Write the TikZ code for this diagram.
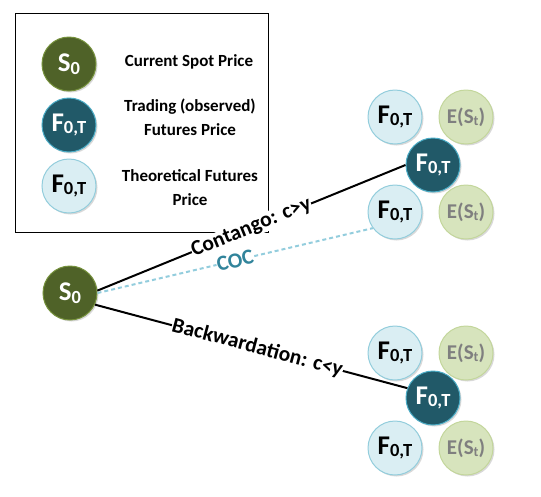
\documentclass[tikz,border=0pt]{standalone}
\usepackage{fontspec}
\setmainfont{Carlito}
\usetikzlibrary{shadows}
\definecolor{spot}{HTML}{4F6228}
\definecolor{spotb}{HTML}{76923C}
\definecolor{trade}{HTML}{215968}
\definecolor{tradeb}{HTML}{4BACC6}
\definecolor{theo}{HTML}{DAEEF3}
\definecolor{theob}{HTML}{92CDDC}
\definecolor{expc}{HTML}{D7E4BD}
\definecolor{expb}{HTML}{C3D69B}
\definecolor{expt}{HTML}{7F7F7F}
\definecolor{coc}{HTML}{31849B}
\definecolor{cocline}{HTML}{93CDDD}
\newcommand{\Fsub}{F\raisebox{-2.5pt}{\fontsize{18.5}{18.5}\selectfont 0,T}}
\newcommand{\Ssub}{S\raisebox{-2.5pt}{\fontsize{18.5}{18.5}\selectfont 0}}
\newcommand{\Esub}{E(S\raisebox{-2pt}{\fontsize{14}{14}\selectfont t})}
\begin{document}
\begin{tikzpicture}[x=1pt,y=-1pt,
 ball/.style={circle, minimum size=54pt, inner sep=0pt, line width=1pt,
   drop shadow={shadow xshift=1.5pt, shadow yshift=-1.5pt, opacity=0.3}},
 spotball/.style={ball, fill=spot, draw=spotb, text=white, font=\bfseries\fontsize{27}{27}\selectfont},
 tradeball/.style={ball, fill=trade, draw=tradeb, text=white, font=\bfseries\fontsize{27}{27}\selectfont},
 theoball/.style={ball, fill=theo, draw=theob, text=black, font=\bfseries\fontsize{27}{27}\selectfont},
 expball/.style={ball, fill=expc, draw=expb, text=expt, font=\bfseries\fontsize{21}{21}\selectfont},
 legtext/.style={font=\bfseries\fontsize{17}{24}\selectfont, align=center},
 conn/.style={line width=2pt, black},
 cocconn/.style={line width=2pt, cocline, dash pattern=on 4pt off 3pt},
 lbl/.style={sloped, fill=white, inner sep=0.5pt, font=\bfseries\fontsize{21.5}{21.5}\selectfont}
]
\useasboundingbox (0,0) rectangle (541,496);
% legend
\node[draw, line width=0.8pt, minimum width=253pt, minimum height=219pt, anchor=north west, inner sep=0pt] (legend) at (15,13) {};
\node[spotball] (ls) at (69,64) {\Ssub};
\node[tradeball] (lf) at (69,125) {\Fsub};
\node[theoball] (lt) at (69,186) {\Fsub};
\node[legtext] (lst) at (189,62) {Current Spot Price};
\node[legtext] (lft) at (190,117) {Trading (observed)\\Futures Price};
\node[legtext] (ltt) at (190,188) {Theoretical Futures\\Price};
% main
\node[spotball] (s0) at (70,293) {\Ssub};
% upper cluster
\node[theoball] (tu1) at (395,117) {\Fsub};
\node[expball] (eu1) at (466,117) {\Esub};
\node[theoball] (tu2) at (395,212) {\Fsub};
\node[expball] (eu2) at (466,212) {\Esub};
\node[tradeball] (fu) at (433,165) {\Fsub};
% lower cluster
\node[theoball] (td1) at (395,353) {\Fsub};
\node[expball] (ed1) at (466,353) {\Esub};
\node[theoball] (td2) at (395,448) {\Fsub};
\node[expball] (ed2) at (466,448) {\Esub};
\node[tradeball] (fd) at (433,398) {\Fsub};
% connectors
\draw[cocconn] (s0.east) -- (tu2.216) node[lbl, pos=0.5, text=coc] (coclbl) {COC};
\draw[conn] (s0.5) -- (fu.west) node[lbl, pos=0.5] (conlbl) {Contango: c>y};
\draw[conn] (s0.-25) -- (fd.159) node[lbl, pos=0.52] (backlbl) {Backwardation: c<y};
\end{tikzpicture}
\end{document}
